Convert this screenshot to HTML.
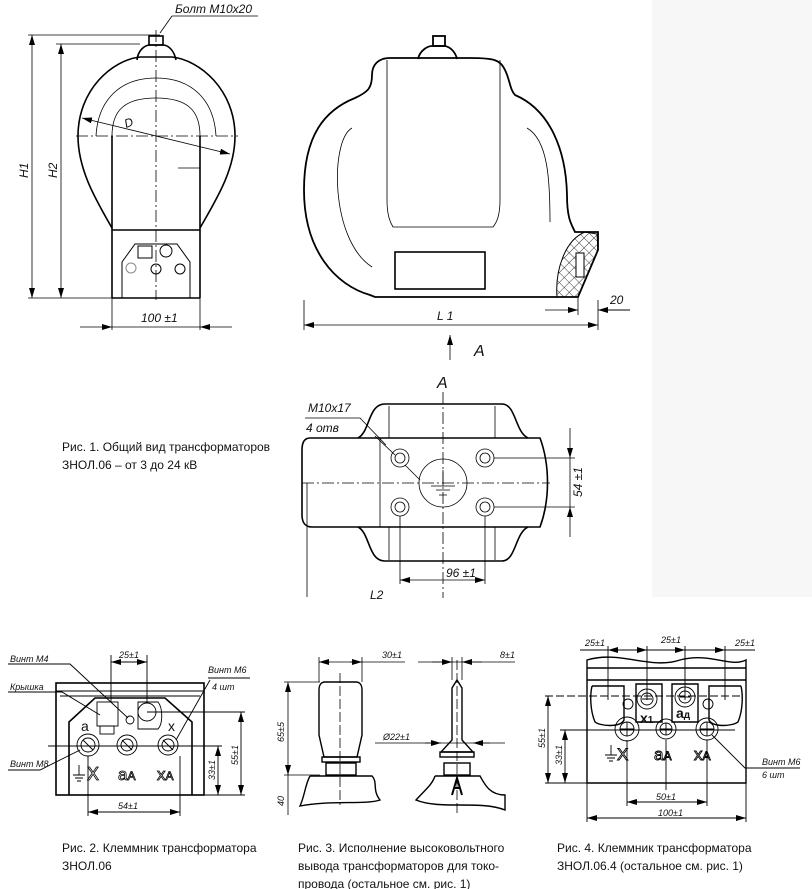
<!DOCTYPE html>
<html><head><meta charset="utf-8"><style>
html,body{margin:0;padding:0;background:#fff}
svg{display:block}
text{font-family:"Liberation Sans",sans-serif;fill:#111}
.i{font-style:italic;font-size:12px}
.c{font-size:12px}
.s{font-size:9px;font-style:italic}
</style></head><body>
<svg width="812" height="889" viewBox="0 0 812 889" xmlns="http://www.w3.org/2000/svg">
<defs>
<marker id="a" viewBox="0 0 10 6" refX="10" refY="3" markerWidth="10" markerHeight="6" orient="auto-start-reverse" markerUnits="userSpaceOnUse"><path d="M0,0 L10,3 L0,6 z" fill="#000"/></marker>
<pattern id="h" width="7" height="7" patternUnits="userSpaceOnUse" patternTransform="rotate(45)"><path d="M0,0 H7 M0,0 V7" stroke="#000" stroke-width="0.8"/></pattern>
</defs>
<rect x="652" y="0" width="160" height="597" fill="#f7f7f7"/>
<g fill="none" stroke="#000">
<!-- FIG 1 LEFT -->
<g stroke-width="0.8">
<line x1="28" y1="35" x2="160" y2="35"/><line x1="56" y1="44" x2="140" y2="44"/>
<line x1="28" y1="298" x2="112" y2="298"/>
<line x1="32" y1="35" x2="32" y2="298" marker-start="url(#a)" marker-end="url(#a)"/>
<line x1="61" y1="44" x2="61" y2="298" marker-start="url(#a)" marker-end="url(#a)"/>
<line x1="156" y1="30" x2="156" y2="300" stroke-dasharray="12,3,2,3"/>
<line x1="76" y1="136" x2="238" y2="136" stroke-dasharray="12,3,2,3"/>
<line x1="82" y1="118" x2="230" y2="154" marker-start="url(#a)" marker-end="url(#a)"/>
<line x1="160" y1="33" x2="172" y2="16"/><line x1="172" y1="16" x2="258" y2="16"/>
<line x1="112" y1="298" x2="112" y2="330"/><line x1="200" y1="298" x2="200" y2="330"/>
<line x1="80" y1="327" x2="112" y2="327" marker-end="url(#a)"/><line x1="232" y1="327" x2="200" y2="327" marker-end="url(#a)"/>
<line x1="112" y1="327" x2="200" y2="327"/>
<path d="M96,136 C98,100 120,78 156,78 C192,78 214,100 216,136"/>
<path d="M112,136 C112,110 125,98 156,98 C187,98 200,110 200,136"/>
<line x1="178" y1="168" x2="200" y2="168"/>
</g>
<g stroke-width="1.6">
<path d="M112,228 C96,200 78,170 78,136 C78,90 112,60 140,57 L172,57 C200,60 235,90 235,136 C235,170 216,200 200,228"/>
<path d="M137,60 C138,50 145,45 150,45 L163,45 C168,45 174,50 176,60"/>
<rect x="149" y="36" width="14" height="9"/>
<line x1="112" y1="136" x2="112" y2="298"/><line x1="200" y1="136" x2="200" y2="298"/>
<line x1="112" y1="230" x2="200" y2="230"/><line x1="112" y1="298" x2="200" y2="298"/>
</g>
<g stroke-width="1">
<path d="M122,298 V262 L135,244 H177 L190,262 V298"/>
<rect x="138" y="246" width="14" height="12"/><circle cx="166" cy="251" r="6"/>
<circle cx="131" cy="268" r="5" stroke="#888"/><circle cx="156" cy="269" r="5"/><circle cx="180" cy="269" r="5"/>
</g>
<!-- FIG 1 RIGHT -->
<g stroke-width="1.8">
<path d="M375,297 L578,297 L598,250 L598,232 L575,232 C572,225 567,220 567,195 C566,150 550,110 515,95 C510,90 510,80 505,70 C500,60 495,58 470,58 L390,58 C378,58 372,65 372,75 C372,88 368,92 355,98 C325,110 304,135 304,190 C304,250 335,285 370,295 Z"/>
<path d="M418,59 C420,50 428,46 432,46 L444,46 C448,46 455,50 457,59"/>
<rect x="433" y="36" width="12" height="10"/>
</g>
<g stroke-width="0.8">
<path d="M387,60 L387,200 C387,215 390,222 393,227 L493,227 C497,222 500,215 500,200 L500,60"/>
<path d="M352,128 C330,140 330,240 372,267"/>
<path d="M527,128 C548,140 550,180 550,222"/>
<path d="M304,300 V330 M598,300 V330 M578,297 V315"/>
<line x1="304" y1="325" x2="598" y2="325" marker-start="url(#a)" marker-end="url(#a)"/>
<line x1="545" y1="310" x2="578" y2="310" marker-end="url(#a)"/><line x1="630" y1="310" x2="598" y2="310" marker-end="url(#a)"/>
<line x1="598" y1="310" x2="630" y2="310"/><line x1="602" y1="310" x2="630" y2="310"/>
<line x1="450" y1="360" x2="450" y2="335" marker-end="url(#a)"/>
</g>
<rect x="395" y="252" width="90" height="37" stroke-width="1.6"/>
<path d="M585,232 C565,240 555,270 557,297 L578,297 L598,250 L597,234 Z" fill="url(#h)" stroke-width="1"/>
<rect x="576" y="253" width="8" height="24" fill="#fff" stroke-width="1"/>
<!-- VIEW A -->
<g stroke-width="1.6">
<path d="M540,438 L310,438 C304,438 302,443 302,450 L302,515 C302,522 305,527 312,527 L540,527 C550,500 550,465 540,438 Z"/>
<path d="M358,438 C370,432 368,404 385,404 L502,404 C516,404 515,432 528,438"/>
<path d="M358,527 C370,533 368,561 385,561 L502,561 C516,561 515,533 528,527"/>
</g>
<g stroke-width="0.8">
<line x1="380" y1="438" x2="380" y2="527"/>
<line x1="389" y1="406" x2="389" y2="438"/><line x1="495" y1="406" x2="495" y2="438"/>
<line x1="389" y1="527" x2="389" y2="560"/><line x1="495" y1="527" x2="495" y2="560"/>
<line x1="443" y1="392" x2="443" y2="598" stroke-dasharray="12,3,2,3"/>
<line x1="302" y1="483" x2="550" y2="483" stroke-dasharray="12,3,2,3"/>
<circle cx="443" cy="483" r="24"/>
<path d="M443,470 V486 M431,486 H455 M436,490 H450 M439,495 H447"/>
<circle cx="400" cy="458" r="9"/><circle cx="400" cy="458" r="5"/>
<circle cx="485" cy="458" r="9"/><circle cx="485" cy="458" r="5"/>
<circle cx="400" cy="507" r="9"/><circle cx="400" cy="507" r="5"/>
<circle cx="485" cy="507" r="9"/><circle cx="485" cy="507" r="5"/>
<line x1="494" y1="458" x2="575" y2="458"/><line x1="494" y1="507" x2="575" y2="507"/>
<line x1="570" y1="428" x2="570" y2="458" marker-end="url(#a)"/><line x1="570" y1="537" x2="570" y2="507" marker-end="url(#a)"/>
<line x1="570" y1="458" x2="570" y2="507"/>
<line x1="400" y1="516" x2="400" y2="584"/><line x1="485" y1="516" x2="485" y2="584"/>
<line x1="400" y1="580" x2="485" y2="580" marker-start="url(#a)" marker-end="url(#a)"/>
<line x1="307" y1="483" x2="307" y2="597"/>
<path d="M305,418 H360 L386,445 M375,436 L395,455 M420,480 L405,465"/>
</g>
<!-- FIG 2 -->
<g stroke-width="1.6">
<rect x="56" y="683" width="148" height="112"/>
<path d="M69,795 V722 L95,698 H165 L192,722 V795"/>
</g>
<g stroke-width="0.9">
<line x1="56" y1="691" x2="204" y2="691"/><line x1="60" y1="696" x2="200" y2="696"/>
<rect x="97" y="702" width="21" height="24"/><rect x="100" y="726" width="14" height="8"/>
<path d="M138,702 H158 C163,708 163,724 158,729 H138 Z"/><circle cx="147" cy="712" r="9"/>
<circle cx="130" cy="720" r="4"/>
<circle cx="88" cy="745" r="11"/><circle cx="88" cy="745" r="7"/>
<circle cx="127" cy="745" r="10"/><circle cx="127" cy="745" r="6"/>
<circle cx="168" cy="745" r="10"/><circle cx="168" cy="745" r="6"/>
<path d="M83,740 L93,750 M122,740 L132,750 M163,740 L173,750"/>
<line x1="48" y1="746" x2="222" y2="746"/><line x1="147" y1="712" x2="245" y2="712"/>
<line x1="204" y1="795" x2="245" y2="795"/>
<line x1="241" y1="712" x2="241" y2="795" marker-start="url(#a)" marker-end="url(#a)"/>
<line x1="218" y1="746" x2="218" y2="795" marker-start="url(#a)" marker-end="url(#a)"/>
<line x1="111" y1="655" x2="111" y2="702"/><line x1="147" y1="655" x2="147" y2="702"/>
<line x1="111" y1="662" x2="147" y2="662" marker-start="url(#a)" marker-end="url(#a)"/>
<line x1="88" y1="756" x2="88" y2="816"/><line x1="180" y1="756" x2="180" y2="816"/>
<line x1="88" y1="812" x2="180" y2="812" marker-start="url(#a)" marker-end="url(#a)"/>
<path d="M8,664 H70 L128,718 M8,692 H62 L100,715 M208,678 H250 M210,680 L176,740 M8,770 H40 L80,750"/>
<path d="M79,765 V775 M73,775 H85 M75,778 H83 M77,781 H81"/>
</g>
<!-- FIG 3 -->
<g stroke-width="1.4">
<path d="M319,735 V690 C319,684 322,682 325,682 H356 C359,682 362,684 362,690 V735 L357,757 H324 Z"/>
<rect x="322" y="757" width="38" height="5"/><rect x="326" y="763" width="30" height="12"/>
<path d="M310,776 H372 C378,782 372,790 380,800 C365,805 330,800 300,806 C305,795 305,785 310,776"/>
<path d="M452,740 V688 L457,680 L462,688 V740 L473,752 H441 Z"/>
<rect x="440" y="752" width="34" height="5"/><rect x="444" y="763" width="26" height="12"/>
<path d="M435,776 H480 C485,785 490,795 505,795 L505,810 C480,800 440,810 416,800 C425,790 432,785 435,776"/>
<path d="M452,795 L457,778 L462,795 M454,788 H460" stroke-width="2"/>
</g>
<g stroke-width="0.8">
<line x1="340" y1="673" x2="340" y2="805" stroke-dasharray="10,3"/>
<line x1="457" y1="660" x2="457" y2="815" stroke-dasharray="10,3"/>
<line x1="319" y1="657" x2="319" y2="682"/><line x1="362" y1="657" x2="362" y2="682"/>
<line x1="319" y1="662" x2="405" y2="662"/>
<line x1="330" y1="662" x2="319" y2="662" marker-end="url(#a)"/><line x1="350" y1="662" x2="362" y2="662" marker-end="url(#a)"/>
<line x1="452" y1="657" x2="452" y2="680"/><line x1="462" y1="657" x2="462" y2="680"/>
<line x1="418" y1="662" x2="515" y2="662"/>
<line x1="432" y1="662" x2="452" y2="662" marker-end="url(#a)"/><line x1="482" y1="662" x2="462" y2="662" marker-end="url(#a)"/>
<line x1="284" y1="682" x2="320" y2="682"/><line x1="284" y1="775" x2="320" y2="775"/>
<line x1="288" y1="682" x2="288" y2="775" marker-start="url(#a)" marker-end="url(#a)"/>
<line x1="288" y1="775" x2="288" y2="815"/>
<line x1="375" y1="743" x2="505" y2="743"/>
<line x1="425" y1="743" x2="441" y2="743" marker-end="url(#a)"/><line x1="490" y1="743" x2="473" y2="743" marker-end="url(#a)"/>
</g>
<!-- FIG 4 -->
<g stroke-width="1.4">
<path d="M587,783 V660 C620,650 650,670 680,660 C710,652 730,668 746,660 V783 Z"/>
<line x1="587" y1="668" x2="746" y2="668"/><line x1="587" y1="680" x2="746" y2="680"/>
<path d="M592,686 H624 V720 C620,728 600,726 595,722 C590,710 590,695 592,686"/>
<path d="M741,686 H709 V720 C713,728 733,726 738,722 C743,710 743,695 741,686"/>
<path d="M636,684 H662 V722 H636 Z"/><path d="M672,684 H698 V722 H672 Z"/>
</g>
<g stroke-width="0.9">
<circle cx="647" cy="699" r="10"/><circle cx="647" cy="699" r="6"/>
<circle cx="685" cy="697" r="10"/><circle cx="685" cy="697" r="6"/>
<circle cx="628" cy="704" r="5"/><circle cx="708" cy="704" r="5"/>
<circle cx="627" cy="729" r="12"/><circle cx="627" cy="729" r="7"/>
<circle cx="666" cy="729" r="10"/><circle cx="666" cy="729" r="6"/>
<circle cx="707" cy="729" r="11"/><circle cx="707" cy="729" r="7"/>
<path d="M620,729 H634 M627,722 V736 M660,729 H672 M666,723 V735 M700,729 H714 M707,722 V736 M642,699 H652 M680,697 H690"/>
<line x1="545" y1="696" x2="740" y2="696" stroke-dasharray="8,3"/>
<line x1="560" y1="730" x2="735" y2="730"/><line x1="545" y1="783" x2="746" y2="783"/>
<line x1="548" y1="696" x2="548" y2="783" marker-start="url(#a)" marker-end="url(#a)"/>
<line x1="565" y1="730" x2="565" y2="783" marker-start="url(#a)" marker-end="url(#a)"/>
<line x1="627" y1="740" x2="627" y2="806"/><line x1="707" y1="740" x2="707" y2="806"/>
<line x1="627" y1="802" x2="707" y2="802" marker-start="url(#a)" marker-end="url(#a)"/>
<line x1="587" y1="783" x2="587" y2="822"/><line x1="746" y1="783" x2="746" y2="822"/>
<line x1="587" y1="818" x2="746" y2="818" marker-start="url(#a)" marker-end="url(#a)"/>
<line x1="666" y1="740" x2="666" y2="790"/>
<line x1="580" y1="650" x2="755" y2="650"/>
<line x1="608" y1="646" x2="608" y2="700"/><line x1="647" y1="646" x2="647" y2="700"/>
<line x1="685" y1="646" x2="685" y2="700"/><line x1="725" y1="646" x2="725" y2="700"/>
<line x1="627" y1="650" x2="608" y2="650" marker-end="url(#a)"/><line x1="628" y1="650" x2="647" y2="650" marker-end="url(#a)"/>
<line x1="666" y1="650" x2="685" y2="650" marker-end="url(#a)"/><line x1="705" y1="650" x2="725" y2="650" marker-end="url(#a)"/>
<path d="M712,735 L745,768 H800"/>
<path d="M611,745 V755 M605,755 H617 M607,758 H615 M609,761 H613"/>
</g>
</g>
<!-- TEXT -->
<text x="175" y="13" class="i">Болт М10х20</text>
<text x="28" y="178" class="i" transform="rotate(-90 28 178)">H1</text>
<text x="57" y="178" class="i" transform="rotate(-90 57 178)">H2</text>
<text x="126" y="128" class="i" transform="rotate(-20 126 128)">D</text>
<text x="141" y="322" class="i">100 ±1</text>
<text x="437" y="320" class="i">L 1</text>
<text x="610" y="304" class="i">20</text>
<text x="474" y="356" class="i" style="font-size:16px">A</text>
<text x="437" y="388" class="i" style="font-size:16px">A</text>
<text x="308" y="412" class="i">M10x17</text>
<text x="306" y="432" class="i">4 отв</text>
<text x="582" y="497" class="i" transform="rotate(-90 582 497)">54 ±1</text>
<text x="446" y="577" class="i">96 ±1</text>
<text x="370" y="599" class="i">L2</text>
<text x="62" y="451" class="c">Рис. 1. Общий вид трансформаторов</text>
<text x="62" y="469" class="c">ЗНОЛ.06 – от 3 до 24 кВ</text>
<text x="10" y="662" class="s">Винт М4</text>
<text x="10" y="690" class="s">Крышка</text>
<text x="208" y="673" class="s">Винт М6</text>
<text x="212" y="690" class="s">4 шт</text>
<text x="10" y="767" class="s">Винт М8</text>
<text x="119" y="658" class="s">25±1</text>
<text x="118" y="809" class="s">54±1</text>
<text x="238" y="765" class="s" transform="rotate(-90 238 765)">55±1</text>
<text x="215" y="780" class="s" transform="rotate(-90 215 780)">33±1</text>
<text x="81" y="731" style="font-size:14px">a</text><text x="168" y="731" style="font-size:14px">x</text>
<text x="87" y="780" style="font-size:18px;fill:none;stroke:#000;stroke-width:0.8">X</text>
<text x="118" y="780" style="font-size:17px;fill:none;stroke:#000;stroke-width:0.8">a<tspan style="font-size:12px">A</tspan></text>
<text x="157" y="780" style="font-size:17px;fill:none;stroke:#000;stroke-width:0.8">x<tspan style="font-size:12px">A</tspan></text>
<text x="62" y="852" class="c">Рис. 2. Клеммник трансформатора</text>
<text x="62" y="870" class="c">ЗНОЛ.06</text>
<text x="382" y="658" class="s">30±1</text>
<text x="500" y="658" class="s">8±1</text>
<text x="383" y="740" class="s">Ø22±1</text>
<text x="284" y="742" class="s" transform="rotate(-90 284 742)">65±5</text>
<text x="284" y="806" class="s" transform="rotate(-90 284 806)">40</text>
<text x="298" y="852" class="c">Рис. 3. Исполнение высоковольтного</text>
<text x="298" y="870" class="c">вывода трансформаторов для токо-</text>
<text x="298" y="888" class="c">провода (остальное см. рис. 1)</text>
<text x="585" y="646" class="s">25±1</text><text x="661" y="643" class="s">25±1</text><text x="735" y="646" class="s">25±1</text>
<text x="656" y="800" class="s">50±1</text><text x="658" y="816" class="s">100±1</text>
<text x="545" y="748" class="s" transform="rotate(-90 545 748)">55±1</text>
<text x="562" y="765" class="s" transform="rotate(-90 562 765)">33±1</text>
<text x="762" y="765" class="s">Винт М6</text><text x="762" y="778" class="s">6 шт</text>
<text x="640" y="723" style="font-size:14px;font-weight:bold">x<tspan style="font-size:10px">1</tspan></text>
<text x="676" y="718" style="font-size:14px;font-weight:bold">a<tspan style="font-size:10px">д</tspan></text>
<text x="617" y="760" style="font-size:17px;fill:none;stroke:#000;stroke-width:0.9">X</text>
<text x="654" y="760" style="font-size:17px;fill:none;stroke:#000;stroke-width:0.9">a<tspan style="font-size:12px">A</tspan></text>
<text x="694" y="760" style="font-size:17px;fill:none;stroke:#000;stroke-width:0.9">x<tspan style="font-size:12px">A</tspan></text>
<text x="557" y="852" class="c">Рис. 4. Клеммник трансформатора</text>
<text x="557" y="870" class="c">ЗНОЛ.06.4 (остальное см. рис. 1)</text>
</svg>
</body></html>
